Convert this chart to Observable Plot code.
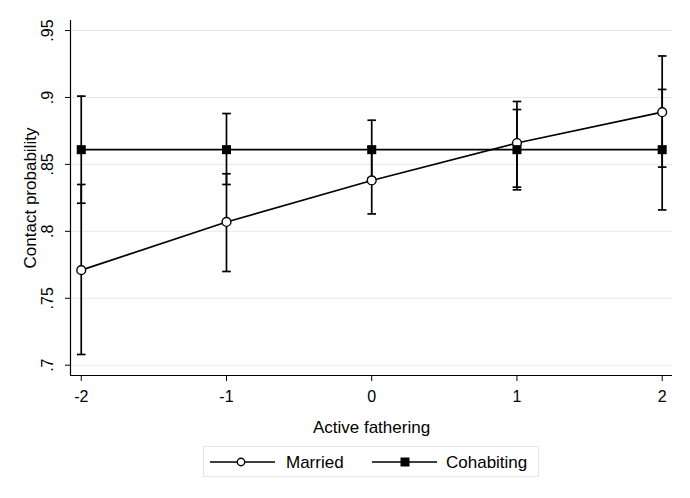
<!DOCTYPE html>
<html>
<head>
<meta charset="utf-8">
<script src="https://cdn.jsdelivr.net/npm/d3@7"></script>
<script src="https://cdn.jsdelivr.net/npm/@observablehq/plot@0.6"></script>
<style>
  html, body { margin: 0; padding: 0; background: #fff; }
  body { width: 690px; height: 498px; overflow: hidden; font-family: "Liberation Sans", Arial, sans-serif; }
  #legend { margin-left: 203px; margin-top: 6px; width: 336px; height: 31px; box-sizing: border-box; border: 1px solid #e6e6e6; }
</style>
</head>
<body>
<div id="chart"></div>
<div id="legend"></div>
<script>
const fathering = [-2, -1, 0, 1, 2];
const marriedProb = [0.771, 0.807, 0.838, 0.866, 0.889];
const marriedLo   = [0.708, 0.770, 0.813, 0.833, 0.848];
const marriedHi   = [0.835, 0.843, 0.863, 0.897, 0.931];
const cohabProb   = [0.861, 0.861, 0.861, 0.861, 0.861];
const cohabLo     = [0.821, 0.835, 0.840, 0.831, 0.816];
const cohabHi     = [0.901, 0.888, 0.883, 0.891, 0.906];
const yTicks = [0.7, 0.75, 0.8, 0.85, 0.9, 0.95];
const xTicks = [-2, -1, 0, 1, 2];
const seriesNames = ["Married", "Cohabiting"];

const married = fathering.map((x, i) => ({x, y: marriedProb[i], lo: marriedLo[i], hi: marriedHi[i]}));
const cohab = fathering.map((x, i) => ({x, y: cohabProb[i], lo: cohabLo[i], hi: cohabHi[i]}));
const bounds = (rows) => rows.flatMap(d => [{x: d.x, y: d.lo}, {x: d.x, y: d.hi}]);

const capSymbol = {
  draw(context, size) {
    const h = Math.sqrt(size / Math.PI);
    context.moveTo(-h, 0);
    context.lineTo(h, 0);
  }
};

const xDomain = [-2.074, 2.071];
const yDomain = [0.6923, 0.9575];
const fmt = d => String(+d.toFixed(2)).replace(/^0\./, ".");

const plot = Plot.plot({
  width: 690,
  height: 440,
  marginLeft: 70,
  marginRight: 18,
  marginTop: 20,
  marginBottom: 65,
  style: {fontFamily: "'Liberation Sans', Arial, sans-serif", background: "#fff"},
  x: {domain: xDomain, label: null},
  y: {domain: yDomain, label: null},
  marks: [
    Plot.gridY(yTicks, {stroke: "#eaeaea", strokeOpacity: 1, strokeWidth: 1}),
    // axes
    Plot.ruleX([xDomain[0]], {y1: yDomain[0], y2: yDomain[1], stroke: "#000", strokeWidth: 1.2}),
    Plot.ruleY([yDomain[0]], {x1: xDomain[0], x2: xDomain[1], stroke: "#000", strokeWidth: 1.2}),
    Plot.axisY({ticks: yTicks, tickSize: 5, tickFormat: () => "", stroke: "#000", label: null}),
    Plot.text(yTicks, {y: d => d, text: fmt, frameAnchor: "left", dx: -23, rotate: -90, textAnchor: "middle", lineAnchor: "middle", fontSize: 16, fill: "#000"}),
    Plot.axisX({ticks: xTicks, tickSize: 6, tickFormat: () => "", stroke: "#000", label: null}),
    Plot.text(xTicks, {x: d => d, text: d => String(d), frameAnchor: "bottom", dy: 21, lineAnchor: "middle", fontSize: 16, fill: "#000"}),
    Plot.text(["Active fathering"], {frameAnchor: "bottom", dy: 52, lineAnchor: "middle", fontSize: 17, fill: "#000"}),
    Plot.text(["Contact probability"], {frameAnchor: "left", dx: -40, rotate: -90, lineAnchor: "middle", textAnchor: "middle", fontSize: 17, fill: "#000"}),
    // error bars
    Plot.ruleX(married, {x: "x", y1: "lo", y2: "hi", stroke: "#000", strokeWidth: 1.7}),
    Plot.ruleX(cohab, {x: "x", y1: "lo", y2: "hi", stroke: "#000", strokeWidth: 1.7}),
    Plot.dot(bounds(married), {x: "x", y: "y", symbol: capSymbol, r: 4.3, stroke: "#000", strokeWidth: 1.7, fill: "none"}),
    Plot.dot(bounds(cohab), {x: "x", y: "y", symbol: capSymbol, r: 4.3, stroke: "#000", strokeWidth: 1.7, fill: "none"}),
    // lines
    Plot.line(married, {x: "x", y: "y", stroke: "#000", strokeWidth: 1.7}),
    Plot.line(cohab, {x: "x", y: "y", stroke: "#000", strokeWidth: 1.7}),
    Plot.dot(married, {x: "x", y: "y", symbol: "circle", r: 4.4, fill: "#fff", stroke: "#000", strokeWidth: 1.4}),
    Plot.dot(cohab, {x: "x", y: "y", symbol: "square", r: 5.1, fill: "#000", stroke: "none"})
  ]
});
document.getElementById("chart").appendChild(plot);

// legend
const lg = d3.select("#legend").append("svg").attr("width", 334).attr("height", 29)
  .style("display", "block")
  .style("font-family", "'Liberation Sans', Arial, sans-serif");
// offsets relative to box left (203) / top (446)
const items = [
  {name: seriesNames[0], x1: 6, x2: 71, mx: 37, text: 82, kind: "circle"},
  {name: seriesNames[1], x1: 168, x2: 233, mx: 201, text: 242, kind: "square"}
];
const cy = 15;
items.forEach(it => {
  lg.append("line").attr("x1", it.x1).attr("x2", it.x2).attr("y1", cy).attr("y2", cy).attr("stroke", "#000").attr("stroke-width", 1.7);
  if (it.kind === "circle") {
    lg.append("circle").attr("cx", it.mx).attr("cy", cy).attr("r", 3.7).attr("fill", "#fff").attr("stroke", "#000").attr("stroke-width", 1.4);
  } else {
    lg.append("rect").attr("x", it.mx - 4.5).attr("y", cy - 4.5).attr("width", 9).attr("height", 9).attr("fill", "#000");
  }
  lg.append("text").attr("x", it.text).attr("y", cy).attr("dy", "0.36em").attr("font-size", 17).attr("fill", "#000").text(it.name);
});
</script>
</body>
</html>
